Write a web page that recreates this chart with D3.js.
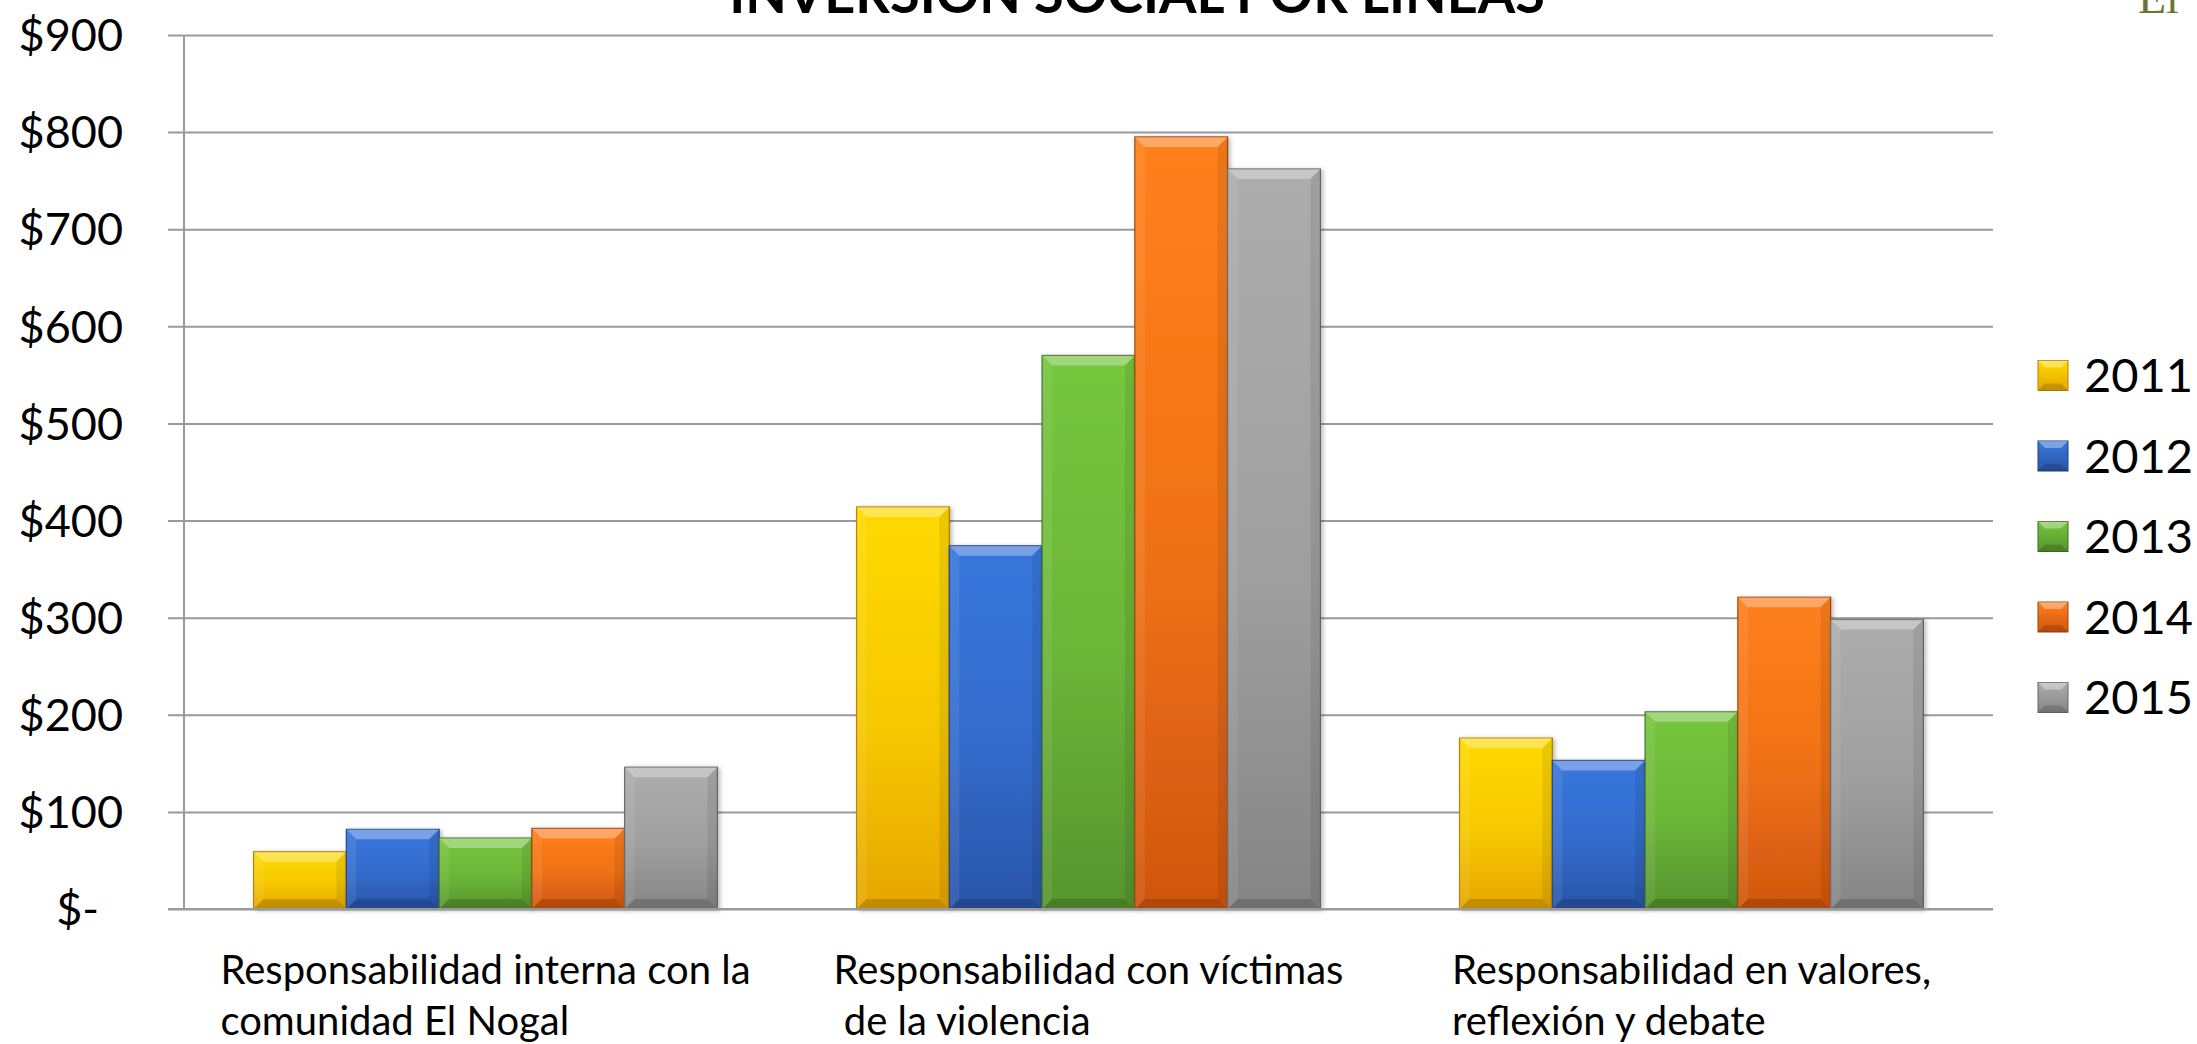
<!DOCTYPE html>
<html><head><meta charset="utf-8">
<script src="https://cdn.jsdelivr.net/npm/d3@7"></script>
<style>
html,body{margin:0;padding:0;background:#fff;overflow:hidden;}
svg{display:block;}
text{font-family:Lato, "Open Sans", sans-serif;}
</style></head>
<body>
<svg id="chart" width="2197" height="1044"></svg>
<script>
// ---- data ----
const categories = ["interna", "victimas", "valores"];
const categoryLines = [
  ["Responsabilidad interna con la", "comunidad El Nogal"],
  ["Responsabilidad con víctimas", " de la violencia"],
  ["Responsabilidad en valores,", "reflexión y debate"]
];
const seriesNames = ["2011", "2012", "2013", "2014", "2015"];
const values2011 = [59, 414, 176];
const values2012 = [82, 374, 153];
const values2013 = [73, 570, 203];
const values2014 = [83, 795, 321];
const values2015 = [146, 762, 298];
const yTickValues = [0, 100, 200, 300, 400, 500, 600, 700, 800, 900];
const yTickLabels = ["$-", "$100", "$200", "$300", "$400", "$500", "$600", "$700", "$800", "$900"];
const titleText = "INVERSIÓN SOCIAL POR LÍNEAS";
const cornerText = "El";

const seriesValues = [values2011, values2012, values2013, values2014, values2015];
const colorTop = ["#FFDA00", "#3877DE", "#76C63D", "#FF801B", "#ADADAD"];
const colorBot = ["#E6A600", "#2955A8", "#57942E", "#D0560F", "#858585"];
const colorEdge = ["#B58300", "#1E3F80", "#3F6E20", "#A04208", "#666666"];

// ---- layout ----
const svg = d3.select("#chart");
const plotLeft = 184, plotRight = 1993, plotTop = 35, plotBottom = 909;

const x0 = d3.scaleBand().domain(categories).range([plotLeft, plotRight]).paddingInner(0).paddingOuter(0);
const x1 = d3.scaleBand().domain(seriesNames).range([0, x0.bandwidth()]).paddingInner(0).paddingOuter(0.75);
const y = d3.scaleLinear().domain([0, 900]).range([plotBottom, plotTop]);

const defs = svg.append("defs");
seriesNames.forEach((s, i) => {
  const g = defs.append("linearGradient").attr("id", "grad" + i)
    .attr("x1", 0).attr("y1", 0).attr("x2", 0).attr("y2", 1);
  g.append("stop").attr("offset", "0%").attr("stop-color", colorTop[i]);
  g.append("stop").attr("offset", "55%").attr("stop-color", d3.interpolateRgb(colorTop[i], colorBot[i])(0.35));
  g.append("stop").attr("offset", "100%").attr("stop-color", colorBot[i]);
  const lg = defs.append("linearGradient").attr("id", "lgrad" + i)
    .attr("x1", 0).attr("y1", 0).attr("x2", 0).attr("y2", 1);
  lg.append("stop").attr("offset", "0%").attr("stop-color", colorTop[i]);
  lg.append("stop").attr("offset", "100%").attr("stop-color", colorBot[i]);
});
const f = defs.append("filter").attr("id", "shadow").attr("x", "-10%").attr("y", "-10%").attr("width", "130%").attr("height", "130%");
f.append("feDropShadow").attr("dx", 2).attr("dy", 1).attr("stdDeviation", 2).attr("flood-color", "#000").attr("flood-opacity", 0.28);

// gridlines + y ticks
const yAxis = d3.axisLeft(y).tickValues(yTickValues).tickSize(-(plotRight - plotLeft + 16)).tickFormat("");
const gy = svg.append("g").attr("transform", `translate(${plotLeft - 16},0)`).call(yAxis);
gy.select(".domain").remove();
gy.selectAll(".tick line").attr("stroke", "#9a9a9a").attr("stroke-width", 2);

// vertical axis line
svg.append("line").attr("x1", plotLeft).attr("x2", plotLeft)
  .attr("y1", y(900)).attr("y2", y(0)).attr("stroke", "#9a9a9a").attr("stroke-width", 2);

// y labels
svg.append("g").selectAll("text").data(yTickValues).join("text")
  .attr("x", 123).attr("y", d => y(d))
  .attr("dx", (d, i) => yTickLabels[i] === "$-" ? -24 : 0)
  .attr("dy", "0.36em")
  .attr("text-anchor", "end")
  .attr("font-size", 45).attr("fill", "#000")
  .text((d, i) => yTickLabels[i]);

// bars
function drawBar(g, xL, w, yT, yB, i) {
  const h = yB - yT;
  const b = Math.min(10, h / 3, w / 4);
  g.append("rect").attr("x", xL).attr("y", yT).attr("width", w).attr("height", h)
    .attr("fill", `url(#grad${i})`).attr("stroke", colorEdge[i]).attr("stroke-width", 1.2)
    .attr("filter", "url(#shadow)");
  const xR = xL + w;
  const poly = (pts, fill, op) => g.append("polygon")
    .attr("points", pts.map(p => p.join(",")).join(" ")).attr("fill", fill).attr("opacity", op);
  poly([[xL, yT], [xR, yT], [xR - b, yT + b], [xL + b, yT + b]], "#fff", 0.32);
  poly([[xL, yT], [xL + b, yT + b], [xL + b, yB - b], [xL, yB]], "#fff", 0.08);
  poly([[xR, yT], [xR, yB], [xR - b, yB - b], [xR - b, yT + b]], "#000", 0.08);
  poly([[xL, yB], [xL + b, yB - b], [xR - b, yB - b], [xR, yB]], "#000", 0.16);
}

const barsG = svg.append("g");
categories.forEach((c, ci) => {
  seriesNames.forEach((s, si) => {
    const v = seriesValues[si][ci];
    const xL = x0(c) + x1(s);
    drawBar(barsG, xL, x1.bandwidth(), y(v), y(0), si);
  });
});

// baseline
svg.append("line").attr("x1", plotLeft - 16).attr("x2", plotRight)
  .attr("y1", y(0)).attr("y2", y(0)).attr("stroke", "#9a9a9a").attr("stroke-width", 2);

// category labels
categories.forEach((c, ci) => {
  const t = svg.append("text").attr("font-size", 40).attr("fill", "#000")
    .style("white-space", "pre").attr("xml:space", "preserve");
  const spans = categoryLines[ci].map((line, li) =>
    t.append("tspan").attr("y", 984 + li * 51).text(line));
  const widths = spans.map(sp => sp.node().getComputedTextLength());
  const maxW = Math.max(...widths);
  const cx = x0(c) + x0.bandwidth() / 2;
  spans.forEach(sp => sp.attr("x", cx - maxW / 2));
});

// legend
const lg = svg.append("g");
seriesNames.forEach((s, i) => {
  const cy = 375.5 + i * 80.5;
  const sq = 30;
  const g = lg.append("g");
  g.append("rect").attr("x", 2038).attr("y", cy - sq / 2).attr("width", sq).attr("height", sq)
    .attr("fill", `url(#lgrad${i})`).attr("stroke", colorEdge[i]).attr("stroke-width", 1);
  const xL = 2038, xR = 2068, yT = cy - sq / 2, yB = cy + sq / 2, b = 7;
  const poly = (pts, fill, op) => g.append("polygon")
    .attr("points", pts.map(p => p.join(",")).join(" ")).attr("fill", fill).attr("opacity", op);
  poly([[xL, yT], [xR, yT], [xR - b, yT + b], [xL + b, yT + b]], "#fff", 0.35);
  poly([[xL, yB], [xL + b, yB - b], [xR - b, yB - b], [xR, yB]], "#000", 0.15);
  g.append("text").attr("x", 2084).attr("y", cy).attr("dy", "0.36em")
    .attr("font-size", 47).attr("fill", "#000").text(s);
});

// title (cut at the top edge, as in the reference)
svg.append("text").attr("x", 1137).attr("y", 13).attr("text-anchor", "middle")
  .attr("font-size", 54).attr("font-weight", "bold").attr("fill", "#000").text(titleText);

// corner text
svg.append("text").attr("x", 2138).attr("y", 13)
  .style("font-family", "'Liberation Serif', 'DejaVu Serif', serif")
  .attr("font-size", 46).attr("fill", "#6B7430").text(cornerText);
</script>
</body></html>
